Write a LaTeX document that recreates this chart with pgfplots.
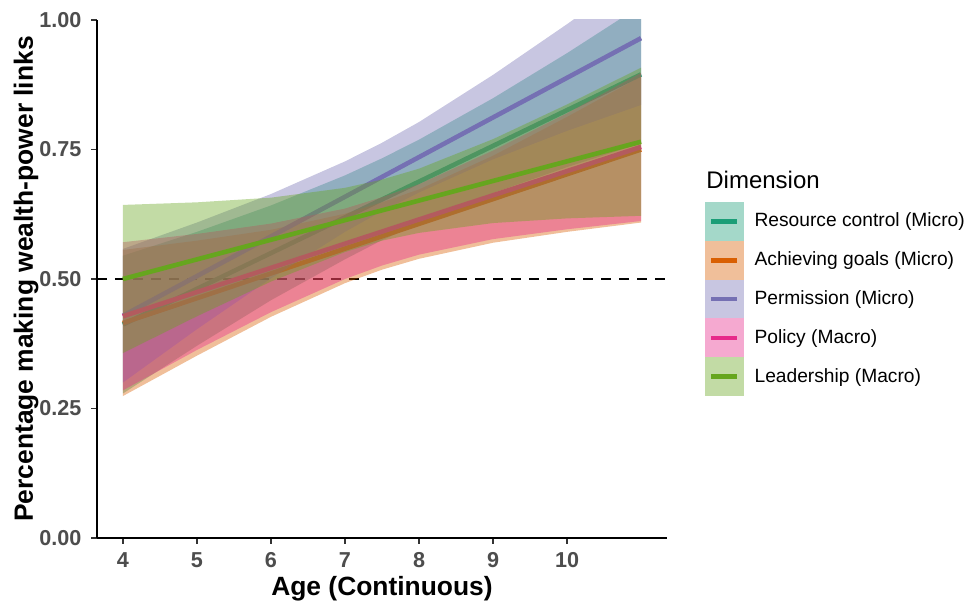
\documentclass[border=0pt]{standalone}
\usepackage{pgfplots}
\pgfplotsset{compat=1.18}
\usepackage{fontspec}
\setmainfont{Liberation Sans}
\definecolor{cteal}{HTML}{1B9E77}
\definecolor{corange}{HTML}{D95F02}
\definecolor{cpurple}{HTML}{7570B3}
\definecolor{cpink}{HTML}{E7298A}
\definecolor{cgreen}{HTML}{66A61E}
\definecolor{tickgrey}{HTML}{4D4D4D}
\definecolor{tickmark}{HTML}{333333}
\begin{document}
\begin{tikzpicture}
\path[use as bounding box] (-48.5pt,-31pt) rectangle (435.5pt,269pt);
\begin{axis}[
  name=ax,
  scale only axis,
  width=285pt, height=259pt,
  xmin=3.65, xmax=11.35,
  ymin=0, ymax=1,
  axis lines*=left,
  axis line style={-, line width=0.9pt, black},
  xtick={4,5,6,7,8,9,10},
  ytick={0,0.25,0.5,0.75,1},
  yticklabels={0.00,0.25,0.50,0.75,1.00},
  tick align=outside,
  major tick length=2.8pt,
  every tick/.style={tickmark, line width=0.9pt},
  /pgf/number format/assume math mode=true,
  tick label style={font=\bfseries\fontsize{10.8}{12}\selectfont, text=tickgrey},
  xticklabel style={yshift=-1pt},
  yticklabel style={xshift=-1.5pt},
  xlabel={Age (Continuous)},
  ylabel={Percentage making wealth-power links},
  label style={font=\bfseries\fontsize{13.2}{15}\selectfont},
  xlabel style={at={(axis description cs:0.5,-0.0975)}, anchor=center},
  ylabel style={at={(axis description cs:-0.1245,0.5)}, anchor=center},
  legend style={at={(1.0667,0.6486)}, anchor=north west, draw=none, fill=none,
    inner sep=0pt, outer sep=0pt, row sep=0pt, column sep=3.4pt,
    font=\fontsize{9.6}{11}\selectfont},
  legend cell align=left,
]
% reference line
\addplot[black, line width=1pt, dash pattern=on 5pt off 4pt, forget plot] coordinates {(3.65,0.5) (11.35,0.5)};

% Resource control (Micro)
\addplot[draw=none, fill=cteal, fill opacity=0.4, forget plot] coordinates {
 (4,0.545)(5,0.591)(6,0.642)(7,0.700)(7.5,0.733)(8,0.769)(9,0.849)(10,0.936)(11,1.028)
 (11,0.762)(10,0.716)(9,0.666)(8,0.607)(7.5,0.575)(7,0.538)(6,0.459)(5,0.371)(4,0.279)};
\addplot[cteal, line width=2.3pt, forget plot] coordinates {(4,0.412)(11,0.895)};

% Achieving goals (Micro)
\addplot[draw=none, fill=corange, fill opacity=0.4, forget plot] coordinates {
 (4,0.556)(5,0.574)(6,0.595)(7,0.626)(7.5,0.648)(8,0.673)(9,0.738)(10,0.813)(11,0.891)
 (11,0.609)(10,0.591)(9,0.570)(8,0.539)(7.5,0.518)(7,0.492)(6,0.427)(5,0.352)(4,0.274)};
\addplot[corange, line width=2.3pt, forget plot] coordinates {(4,0.415)(11,0.750)};

% Permission (Micro)
\addplot[draw=none, fill=cpurple, fill opacity=0.4, forget plot] coordinates {
 (4,0.558)(5,0.609)(6,0.664)(7,0.727)(7.5,0.763)(8,0.803)(9,0.894)(10,0.992)(11,1.094)
 (11,0.836)(10,0.786)(9,0.731)(8,0.667)(7.5,0.631)(7,0.591)(6,0.501)(5,0.403)(4,0.300)};
\addplot[cpurple, line width=2.3pt, forget plot] coordinates {(4,0.429)(11,0.965)};

% Policy (Macro)
\addplot[draw=none, fill=cpink, fill opacity=0.4, forget plot] coordinates {
 (4,0.571)(5,0.587)(6,0.607)(7,0.636)(7.5,0.658)(8,0.683)(9,0.748)(10,0.820)(11,0.898)
 (11,0.612)(10,0.596)(9,0.577)(8,0.547)(7.5,0.526)(7,0.500)(6,0.436)(5,0.363)(4,0.285)};
\addplot[cpink, line width=2.3pt, forget plot] coordinates {(4,0.428)(11,0.755)};

% Leadership (Macro)
\addplot[draw=none, fill=cgreen, fill opacity=0.4, forget plot] coordinates {
 (4,0.643)(5,0.648)(6,0.657)(7,0.676)(7.5,0.692)(8,0.713)(9,0.770)(10,0.837)(11,0.908)
 (11,0.622)(10,0.617)(9,0.608)(8,0.589)(7.5,0.574)(7,0.552)(6,0.495)(5,0.428)(4,0.357)};
\addplot[cgreen, line width=2.3pt, forget plot] coordinates {(4,0.500)(11,0.765)};

% legend
\addlegendimage{legend image code/.code={\fill[cteal!40!white] (0pt,-9.5pt) rectangle (19pt,9.5pt); \draw[cteal, line width=2.3pt] (3pt,0pt) -- (16pt,0pt);}}
\addlegendentry{Resource control (Micro)}
\addlegendimage{legend image code/.code={\fill[corange!40!white] (0pt,-9.5pt) rectangle (19pt,9.5pt); \draw[corange, line width=2.3pt] (3pt,0pt) -- (16pt,0pt);}}
\addlegendentry{Achieving goals (Micro)}
\addlegendimage{legend image code/.code={\fill[cpurple!40!white] (0pt,-9.5pt) rectangle (19pt,9.5pt); \draw[cpurple, line width=2.3pt] (3pt,0pt) -- (16pt,0pt);}}
\addlegendentry{Permission (Micro)}
\addlegendimage{legend image code/.code={\fill[cpink!40!white] (0pt,-9.5pt) rectangle (19pt,9.5pt); \draw[cpink, line width=2.3pt] (3pt,0pt) -- (16pt,0pt);}}
\addlegendentry{Policy (Macro)}
\addlegendimage{legend image code/.code={\fill[cgreen!40!white] (0pt,-9.5pt) rectangle (19pt,9.5pt); \draw[cgreen, line width=2.3pt] (3pt,0pt) -- (16pt,0pt);}}
\addlegendentry{Leadership (Macro)}
\end{axis}
\node[anchor=base west, inner sep=0pt, font=\fontsize{12}{14}\selectfont] at ([xshift=19.5pt,yshift=-84.5pt]ax.north east) {Dimension};
\end{tikzpicture}
\end{document}
